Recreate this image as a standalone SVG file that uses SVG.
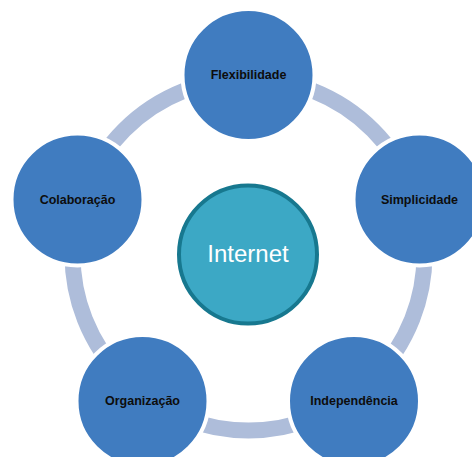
<svg xmlns="http://www.w3.org/2000/svg" width="472" height="457" viewBox="0 0 472 457">
<style>
.node{fill:#407CC0;stroke:#ffffff;stroke-width:4}
.lbl{font-family:"Liberation Sans",Arial,sans-serif;font-weight:bold;font-size:12.5px;fill:#0d0d0d;text-anchor:middle}
.ring{fill:none;stroke:#AEBDDA;stroke-width:16}
</style>
<rect width="472" height="457" fill="#ffffff"/>
<g id="connectors">
<circle class="ring" cx="248.5" cy="254.5" r="176"/>
</g>
<g id="node-flexibilidade">
<circle class="node" cx="248.5" cy="75" r="66"/>
<text class="lbl" x="248.5" y="79">Flexibilidade</text>
</g>
<g id="node-simplicidade">
<circle class="node" cx="419.5" cy="199.5" r="66"/>
<text class="lbl" x="419.5" y="203.5">Simplicidade</text>
</g>
<g id="node-independencia">
<circle class="node" cx="354" cy="401" r="66"/>
<text class="lbl" x="354" y="404.5">Independência</text>
</g>
<g id="node-organizacao">
<circle class="node" cx="142.5" cy="401" r="66"/>
<text class="lbl" x="142.5" y="404.5">Organização</text>
</g>
<g id="node-colaboracao">
<circle class="node" cx="77.5" cy="199.5" r="66"/>
<text class="lbl" x="77.5" y="203.5">Colaboração</text>
</g>
<g id="node-internet">
<circle cx="248" cy="254.5" r="69" fill="#3CA8C5" stroke="#17788F" stroke-width="4"/>
<text x="248" y="262" font-family="Liberation Sans,Arial,sans-serif" font-size="24" fill="#ffffff" text-anchor="middle">Internet</text>
</g>
</svg>
